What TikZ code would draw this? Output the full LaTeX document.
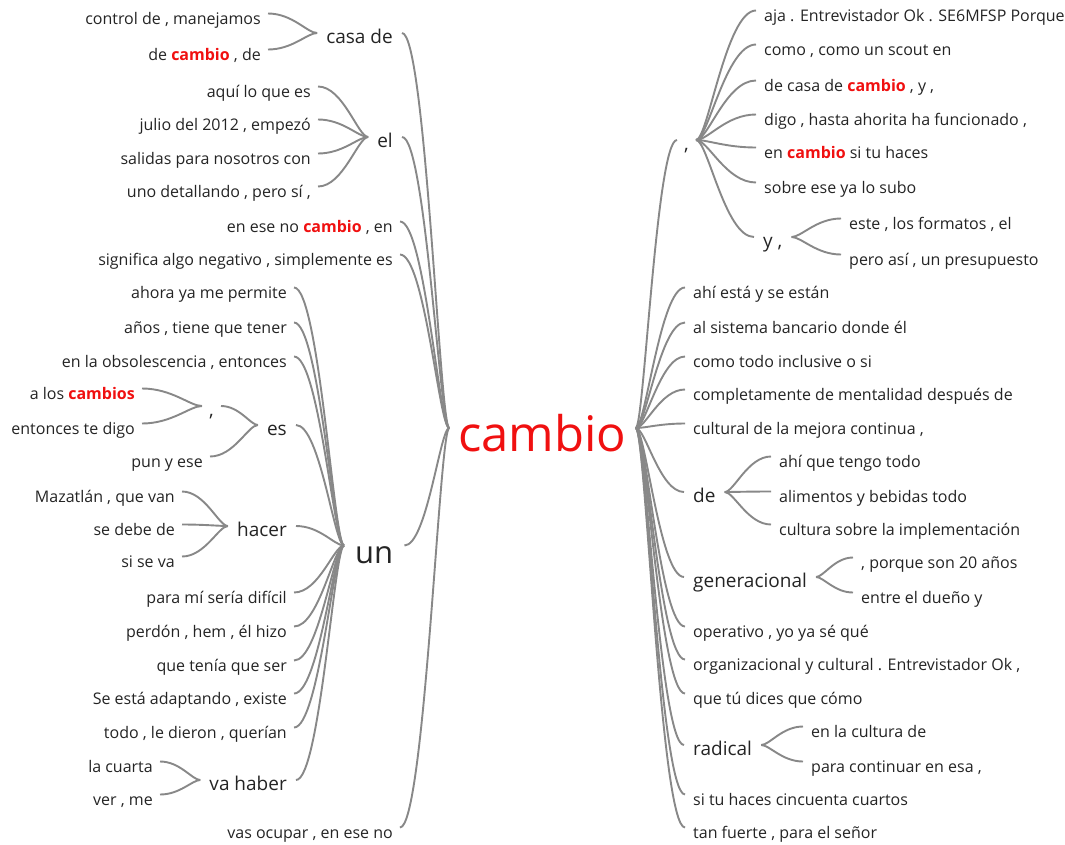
\documentclass[tikz,border=0pt]{standalone}
\usepackage{fontspec}
\setmainfont{Open Sans}
\usetikzlibrary{calc}
\definecolor{ink}{HTML}{242424}
\definecolor{wirecol}{HTML}{888888}
\definecolor{hot}{HTML}{F01010}
\newcommand\hl[1]{\textcolor{hot}{\bfseries #1}}
\newcommand\leaffont{\fontsize{16}{19}\selectfont}
\newcommand\hubfont{\fontsize{19}{22}\selectfont}
\begin{document}
\begin{tikzpicture}[
  x=1pt, y=-1pt,
  every node/.style={inner ysep=0pt, text depth=0pt, text=ink},
  leafL/.style={anchor=base east, font=\leaffont, inner xsep=7pt, xshift=7pt, text height=21pt},
  leafR/.style={anchor=base west, font=\leaffont, inner xsep=8pt, xshift=-8pt, text height=21pt},
  hubL/.style={anchor=base east, font=\hubfont, inner xsep=9pt, xshift=9pt, text height=20pt},
  hubR/.style={anchor=base west, font=\hubfont, inner xsep=9pt, xshift=-9pt, text height=20pt},
  wire/.style={draw=wirecol, line width=1.9pt},
  branch/.style={to path={let \p1=(\tikztostart), \p2=(\tikztotarget) in
    .. controls ({\x1+0.2*(\x2-\x1)},\y1) and ({0.5*(\x1+\x2)},\y2) .. (\tikztotarget)}},
]
\useasboundingbox (0,0) rectangle (1065,844);

% root
\node[anchor=base, font=\fontsize{49}{56}\selectfont, text=hot, inner xsep=9pt, text height=46pt] (root) at (542.5,451) {cambio};

% ---------- left half ----------
\node[hubL] (casa) at (393,43) {casa de};
\node[leafL] (c1) at (261,24) {control de , manejamos};
\node[leafL] (c2) at (261,60) {de \hl{cambio} , de};

\node[hubL] (el) at (393,147) {el};
\node[leafL] (e1) at (311,97) {aquí lo que es};
\node[leafL] (e2) at (311,130) {julio del 2012 , empezó};
\node[leafL] (e3) at (311,164) {salidas para nosotros con};
\node[leafL] (e4) at (311,197) {uno detallando , pero sí ,};

\node[leafL] (l3) at (393,232) {en ese no \hl{cambio} , en};
\node[leafL] (l4) at (393,265) {significa algo negativo , simplemente es};

\node[anchor=base west, font=\fontsize{31}{36}\selectfont, inner xsep=11pt, xshift=-11pt, text height=35pt] (un) at (355,563) {un};
\node[leafL] (u1) at (287,298) {ahora ya me permite};
\node[leafL] (u2) at (287,333) {años , tiene que tener};
\node[leafL] (u3) at (287,367) {en la obsolescencia , entonces};
\node[hubL] (es) at (287,435) {es};
\node[hubL, inner xsep=7pt, xshift=7pt] (cm) at (205,416) {,};
\node[leafL] (cm1) at (135,399) {a los \hl{cambios}};
\node[leafL] (cm2) at (135,434) {entonces te digo};
\node[leafL] (es2) at (203,467) {pun y ese};
\node[hubL] (hacer) at (287,536) {hacer};
\node[leafL] (h1) at (175,502) {Mazatlán , que van};
\node[leafL] (h2) at (175,535) {se debe de};
\node[leafL] (h3) at (175,567) {si se va};
\node[leafL] (u4) at (287,603) {para mí sería difícil};
\node[leafL] (u5) at (287,637) {perdón , hem , él hizo};
\node[leafL] (u6) at (287,671) {que tenía que ser};
\node[leafL] (u7) at (287,704) {Se está adaptando , existe};
\node[leafL] (u8) at (287,738) {todo , le dieron , querían};
\node[hubL] (vh) at (287,790) {va haber};
\node[leafL] (v1) at (153,772) {la cuarta};
\node[leafL] (v2) at (153,805) {ver , me};

\node[leafL] (l6) at (393,838) {vas ocupar , en ese no};

% ---------- right half ----------
\node[hubR, inner xsep=7pt, xshift=-7pt] (rc) at (693,150) {,};
\node[leafR] (r1) at (764,21) {aja . Entrevistador Ok . SE6MFSP Porque};
\node[leafR] (r2) at (764,55) {como , como un scout en};
\node[leafR] (r3) at (764,91) {de casa de \hl{cambio} , y ,};
\node[leafR] (r4) at (764,125) {digo , hasta ahorita ha funcionado ,};
\node[leafR] (r5) at (764,158) {en \hl{cambio} si tu haces};
\node[leafR] (r6) at (764,193) {sobre ese ya lo subo};
\node[hubR] (ry) at (763,247) {y ,};
\node[leafR] (y1) at (849,229) {este , los formatos , el};
\node[leafR] (y2) at (849,265) {pero así , un presupuesto};

\node[leafR] (r7) at (693,298) {ahí está y se están};
\node[leafR] (r8) at (693,333) {al sistema bancario donde él};
\node[leafR] (r9) at (693,367) {como todo inclusive o si};
\node[leafR] (r10) at (693,400) {completamente de mentalidad después de};
\node[leafR] (r11) at (693,434) {cultural de la mejora continua ,};
\node[hubR] (de) at (693,502) {de};
\node[leafR] (d1) at (779,467) {ahí que tengo todo};
\node[leafR] (d2) at (779,502) {alimentos y bebidas todo};
\node[leafR] (d3) at (779,535) {cultura sobre la implementación};
\node[hubR] (gen) at (693,587) {generacional};
\node[leafR] (g1) at (861,568) {, porque son 20 años};
\node[leafR] (g2) at (861,603) {entre el dueño y};
\node[leafR] (r12) at (693,637) {operativo , yo ya sé qué};
\node[leafR] (r13) at (693,670) {organizacional y cultural . Entrevistador Ok ,};
\node[leafR] (r14) at (693,704) {que tú dices que cómo};
\node[hubR] (rad) at (693,755) {radical};
\node[leafR] (a1) at (811,737) {en la cultura de};
\node[leafR] (a2) at (811,772) {para continuar en esa ,};
\node[leafR] (r15) at (693,805) {si tu haces cincuenta cuartos};
\node[leafR] (r16) at (693,838) {tan fuerte , para el señor};

% ---------- connectors ----------
\begin{scope}[wire]
  \foreach \k in {casa, el, l3, l4, un, l6}
    \draw (root.west) to[branch] (\k.east);
  \foreach \k in {c1, c2} \draw (casa.west) to[branch] (\k.east);
  \foreach \k in {e1, e2, e3, e4} \draw (el.west) to[branch] (\k.east);
  \foreach \k in {u1, u2, u3, es, hacer, u4, u5, u6, u7, u8, vh}
    \draw (un.west) to[branch] (\k.east);
  \foreach \k in {cm, es2} \draw (es.west) to[branch] (\k.east);
  \foreach \k in {cm1, cm2} \draw (cm.west) to[branch] (\k.east);
  \foreach \k in {h1, h2, h3} \draw (hacer.west) to[branch] (\k.east);
  \foreach \k in {v1, v2} \draw (vh.west) to[branch] (\k.east);

  \foreach \k in {rc, r7, r8, r9, r10, r11, de, gen, r12, r13, r14, rad, r15, r16}
    \draw (root.east) to[branch] (\k.west);
  \foreach \k in {r1, r2, r3, r4, r5, r6, ry} \draw (rc.east) to[branch] (\k.west);
  \foreach \k in {y1, y2} \draw (ry.east) to[branch] (\k.west);
  \foreach \k in {d1, d2, d3} \draw (de.east) to[branch] (\k.west);
  \foreach \k in {g1, g2} \draw (gen.east) to[branch] (\k.west);
  \foreach \k in {a1, a2} \draw (rad.east) to[branch] (\k.west);
\end{scope}
\end{tikzpicture}
\end{document}
